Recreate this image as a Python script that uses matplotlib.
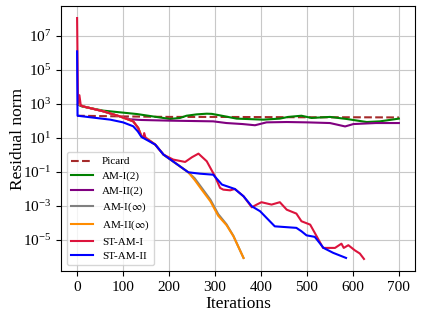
import numpy as np
import matplotlib
matplotlib.use('Agg')
import matplotlib.pyplot as plt

plt.rcParams.update({
    'font.family': 'serif',
    'font.serif': ['Liberation Serif', 'DejaVu Serif'],
    'mathtext.fontset': 'stix',
    'axes.labelsize': 12.5,
    'xtick.labelsize': 11,
    'ytick.labelsize': 11,
    'legend.fontsize': 8,
})

# values: iterations and log10 of the residual norm
picard_it = [0, 100, 200, 300, 400, 500, 600, 700]
picard_lg = [2.29, 2.25, 2.22, 2.22, 2.21, 2.2, 2.2, 2.19]

am1_2_it = [2, 10, 57, 130, 202, 224, 238, 260, 282, 293, 311, 347, 405, 441,
            459, 488, 510, 550, 586, 630, 659, 700]
am1_2_lg = [2.95, 2.84, 2.59, 2.39, 2.1, 2.16, 2.29, 2.37, 2.41, 2.4, 2.31,
            2.12, 2.06, 2.12, 2.22, 2.29, 2.16, 2.22, 2.1, 1.92, 1.96, 2.12]

am2_2_it = [2, 13, 57, 93, 115, 140, 202, 296, 325, 360, 387, 412, 456, 500,
            550, 583, 601, 650, 700]
am2_2_lg = [2.95, 2.84, 2.55, 2.25, 2.08, 2.04, 2.0, 1.96, 1.86, 1.8, 1.73,
            1.9, 1.92, 1.9, 1.86, 1.66, 1.8, 1.86, 1.86]

am1_inf_it = [2, 13, 57, 93, 122, 133, 140, 150, 170, 188, 242, 256, 271,
              290, 307, 325, 340, 362]
am1_inf_lg = [3.0, 2.84, 2.55, 2.25, 1.96, 1.57, 1.08, 0.98, 0.59, 0.0, -1.04,
              -1.4, -1.95, -2.65, -3.5, -4.1, -4.78, -6.08]

am2_inf_it = [2, 13, 57, 93, 122, 133, 140, 150, 170, 188, 242, 256, 271,
              290, 307, 325, 340, 362]
am2_inf_lg = [3.0, 2.84, 2.55, 2.25, 1.96, 1.57, 1.08, 0.98, 0.59, 0.0, -1.04,
              -1.5, -2.06, -2.75, -3.6, -4.15, -4.8, -6.08]

stam1_it = [0, 2, 5, 8, 13, 57, 93, 122, 133, 140, 144, 146, 149, 170, 188,
            209, 235, 250, 264, 282, 300, 311, 318, 333, 343, 362, 380, 390,
            401, 423, 441, 456, 477, 488, 507, 521, 535, 561, 575, 580, 590,
            604, 615, 624]
stam1_lg = [8.04, 3.0, 3.5, 2.9, 2.84, 2.55, 2.25, 1.96, 1.57, 1.08, 1.0,
            1.27, 0.98, 0.59, 0.0, -0.29, -0.43, -0.15, 0.06, -0.39, -1.28,
            -1.96, -2.06, -2.1, -2.02, -2.45, -3.1, -2.95, -2.8, -2.94, -2.8,
            -3.24, -3.47, -3.92, -4.12, -4.8, -5.49, -5.49, -5.24, -5.49,
            -5.33, -5.63, -5.82, -6.14]

stam2_it = [0, 1, 72, 100, 122, 132, 140, 170, 188, 242, 267, 296, 315, 343,
            362, 380, 398, 412, 430, 477, 488, 499, 517, 536, 557, 585]
stam2_lg = [6.08, 2.29, 2.06, 1.9, 1.67, 1.37, 1.04, 0.59, 0.0, -1.04, -1.12,
            -1.18, -1.76, -2.02, -2.45, -3.04, -3.33, -3.72, -4.22, -4.31,
            -4.51, -4.75, -4.84, -5.49, -5.78, -6.08]

series = [
    (picard_it, picard_lg, 'Picard', 'brown', '--'),
    (am1_2_it, am1_2_lg, 'AM-I(2)', 'green', '-'),
    (am2_2_it, am2_2_lg, 'AM-II(2)', 'purple', '-'),
    (am1_inf_it, am1_inf_lg, r'AM-I($\infty$)', 'gray', '-'),
    (am2_inf_it, am2_inf_lg, r'AM-II($\infty$)', 'darkorange', '-'),
    (stam1_it, stam1_lg, 'ST-AM-I', 'crimson', '-'),
    (stam2_it, stam2_lg, 'ST-AM-II', 'blue', '-'),
]

fig, ax = plt.subplots(figsize=(4.23, 3.18), dpi=100)
for it, lg, label, col, ls in series:
    ax.semilogy(it, 10.0 ** np.array(lg), color=col, linestyle=ls,
                linewidth=1.5, label=label)

ax.set_yticks([1e-5, 1e-3, 1e-1, 1e1, 1e3, 1e5, 1e7])
ax.minorticks_off()
ax.set_xticks(range(0, 701, 100))
ax.set_xlabel("Iterations", labelpad=2)
ax.set_ylabel("Residual norm")
ax.yaxis.set_label_coords(-0.1, 0.5)
ax.grid(True, color='#c8c8c8')
ax.legend(loc='lower left', labelspacing=0.42)
plt.subplots_adjust(left=61/423, right=415/423, top=1-6/318, bottom=1-271/318)
plt.savefig("out.png", dpi=100)
